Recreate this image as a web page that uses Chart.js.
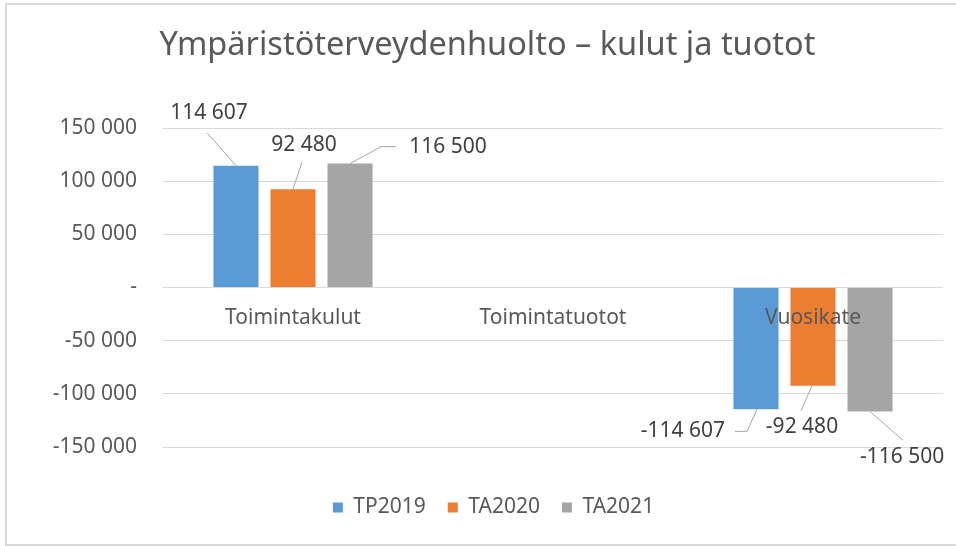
<!DOCTYPE html>
<html><head><meta charset="utf-8">
<script src="https://cdn.jsdelivr.net/npm/chart.js@4/dist/chart.umd.min.js"></script>
<style>html,body{margin:0;padding:0;background:#fff;}canvas{display:block;}</style>
</head><body>
<canvas id="c" width="956" height="546"></canvas>
<script>
// ---- data ----
const titleText = 'Ympäristöterveydenhuolto – kulut ja tuotot';
const categories = ['Toimintakulut', 'Toimintatuotot', 'Vuosikate'];
const seriesNames = ['TP2019', 'TA2020', 'TA2021'];
const tp2019 = [114607, null, -114607];
const ta2020 = [92480, null, -92480];
const ta2021 = [116500, null, -116500];
const yTicks = [-150000, -100000, -50000, 0, 50000, 100000, 150000];

// ---- style ----
const colors = ['#5B9BD5', '#ED7D31', '#A5A5A5'];
const FONT = "'Noto Sans', 'Open Sans', sans-serif";
const textColor = '#595959';
const labelColor = '#404040';
const gridColor = '#D9D9D9';

// data-label placement (pixel offsets from the bar end), keyed dataset-index
const labelLayout = {
  '0-0': {dx: -27, dy: -53, leader: [[0, 0], [-29, -33]]},
  '1-0': {dx: 11, dy: -44, leader: [[0, 0], [9, -27]]},
  '2-0': {dx: 98, dy: -17, leader: [[0, 0], [31, -17], [46, -17]]},
  '0-2': {dx: -73, dy: 22, leader: [[1, 0], [-9, 22], [-21, 22]]},
  '1-2': {dx: -11, dy: 41, leader: [[-1, 0], [-12, 25]]},
  '2-2': {dx: 32, dy: 46, leader: [[0, 0], [33, 29]]}
};

function fmt(v) {
  if (v === 0) return '-';
  const s = Math.abs(v).toString().replace(/\B(?=(\d{3})+(?!\d))/g, ' ');
  return (v < 0 ? '-' : '') + s;
}

// fit title font size to the reference width
const mc = document.createElement('canvas').getContext('2d');
mc.font = "30px " + FONT;
const titleSize = Math.round(30 * 655 / mc.measureText(titleText).width * 10) / 10;
const titleTopPad = Math.max(0, 46 - 0.6 * titleSize);
const titleBottomPad = 128 - (titleTopPad + 1.2 * titleSize);

const framePlugin = {
  id: 'frame',
  beforeDraw(chart) {
    const ctx = chart.ctx;
    ctx.save();
    ctx.fillStyle = '#fff';
    ctx.fillRect(0, 0, chart.width, chart.height);
    ctx.strokeStyle = '#D9D9D9';
    ctx.lineWidth = 2;
    ctx.beginPath();
    ctx.moveTo(6, 546); ctx.lineTo(6, 4); ctx.lineTo(956, 4);
    ctx.moveTo(6, 545); ctx.lineTo(956, 545);
    ctx.stroke();
    ctx.restore();
  }
};

// nudge title and legend horizontally to match the reference placement
const shiftPlugin = {
  id: 'shiftBoxes',
  afterLayout(chart) {
    if (chart.titleBlock) { chart.titleBlock.left += 16; chart.titleBlock.right += 16; }
    if (chart.legend) { chart.legend.left += 22; chart.legend.right += 22; }
  }
};

const labelsPlugin = {
  id: 'customLabels',
  afterDatasetsDraw(chart) {
    const ctx = chart.ctx;
    const xs = chart.scales.x, ys = chart.scales.y;
    const y0 = ys.getPixelForValue(0);
    ctx.save();
    ctx.font = "21px " + FONT;
    ctx.textAlign = 'center';
    ctx.textBaseline = 'middle';
    ctx.fillStyle = textColor;
    chart.data.labels.forEach((lab, i) => {
      ctx.fillText(lab, xs.getPixelForValue(i), y0 + 31);
    });
    chart.data.datasets.forEach((ds, di) => {
      const meta = chart.getDatasetMeta(di);
      ds.data.forEach((v, i) => {
        if (v === null || v === undefined) return;
        const el = meta.data[i];
        const L = labelLayout[di + '-' + i] || {dx: 0, dy: v >= 0 ? -14 : 14, leader: []};
        if (L.leader.length > 1) {
          ctx.strokeStyle = '#A6A6A6';
          ctx.lineWidth = 1;
          ctx.beginPath();
          L.leader.forEach((p, k) => {
            const px = el.x + p[0], py = el.y + p[1];
            if (k === 0) ctx.moveTo(px, py); else ctx.lineTo(px, py);
          });
          ctx.stroke();
        }
        ctx.fillStyle = labelColor;
        ctx.fillText(fmt(v), el.x + L.dx, el.y + L.dy);
      });
    });
    ctx.restore();
  }
};

const seriesData = [tp2019, ta2020, ta2021];

new Chart(document.getElementById('c'), {
  type: 'bar',
  data: {
    labels: categories,
    datasets: seriesNames.map((name, i) => ({
      label: name,
      data: seriesData[i],
      backgroundColor: colors[i],
      borderWidth: 0,
      categoryPercentage: 0.658,
      barPercentage: 0.79
    }))
  },
  options: {
    responsive: false,
    animation: false,
    devicePixelRatio: 1,
    layout: {padding: {left: 0, right: 13, top: 0, bottom: 18}},
    scales: {
      x: {
        grid: {display: false},
        border: {display: false},
        ticks: {display: false},
        afterFit(scale) { scale.height = 28; }
      },
      y: {
        min: -150000,
        max: 150000,
        afterBuildTicks(scale) { scale.ticks = yTicks.map(v => ({value: v})); },
        afterFit(scale) { scale.width = 163; },
        grid: {color: gridColor, lineWidth: 1, drawTicks: false},
        border: {display: false},
        ticks: {
          padding: 26,
          color: textColor,
          font: {family: FONT, size: 21},
          callback: (v) => fmt(v)
        }
      }
    },
    plugins: {
      title: {
        display: true,
        text: titleText,
        color: textColor,
        font: {family: FONT, size: titleSize, weight: 'normal', lineHeight: 1.2},
        padding: {top: titleTopPad, bottom: titleBottomPad}
      },
      legend: {
        display: true,
        position: 'bottom',
        labels: {
          boxWidth: 10,
          boxHeight: 10,
          padding: 22,
          color: textColor,
          font: {family: FONT, size: 21}
        }
      },
      tooltip: {enabled: false}
    }
  },
  plugins: [framePlugin, shiftPlugin, labelsPlugin]
});
</script>
</body></html>
